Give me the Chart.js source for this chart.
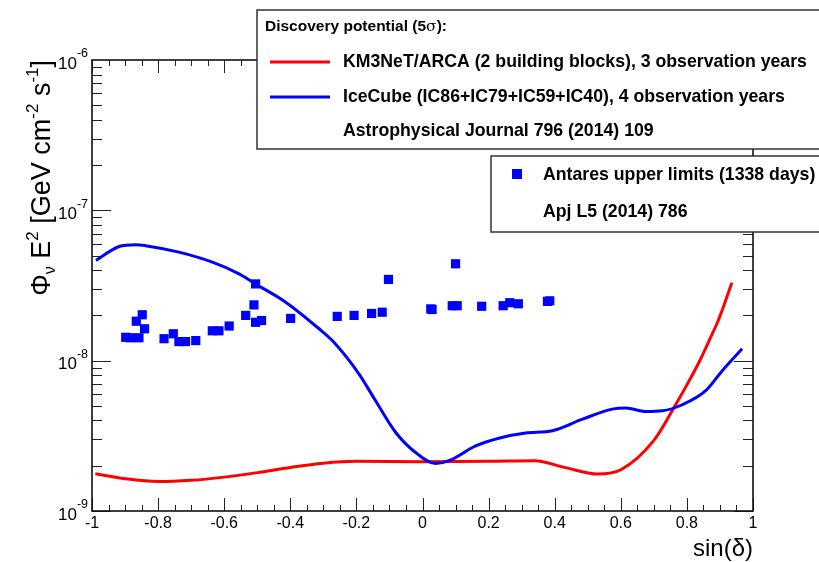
<!DOCTYPE html>
<html>
<head>
<meta charset="utf-8">
<script src="https://cdn.jsdelivr.net/npm/chart.js@4/dist/chart.umd.min.js"></script>
<style>
html, body { margin: 0; padding: 0; background: #fff; }
canvas { display: block; }
</style>
</head>
<body>
<canvas id="fluxChart" width="819" height="562"></canvas>
<script>
// KM3NeT/ARCA discovery potential (red)
const arcaSin  = [-0.99, -0.9, -0.8, -0.7, -0.6, -0.5, -0.4, -0.3, -0.2, 0.0, 0.2, 0.34, 0.43, 0.53, 0.6, 0.7, 0.766, 0.8, 0.837, 0.87, 0.897, 0.936];
const arcaFlux = [1.77e-9, 1.64e-9, 1.57e-9, 1.60e-9, 1.68e-9, 1.80e-9, 1.95e-9, 2.08e-9, 2.14e-9, 2.13e-9, 2.14e-9, 2.16e-9, 1.95e-9, 1.76e-9, 1.88e-9, 2.95e-9, 5.1e-9, 6.9e-9, 9.8e-9, 1.4e-8, 1.9e-8, 3.3e-8];

// IceCube discovery potential (blue)
const icecubeSin  = [-0.988, -0.918, -0.868, -0.838, -0.737, -0.636, -0.555, -0.505, -0.414, -0.313, -0.273, -0.192, -0.142, -0.081, -0.021, 0.04, 0.08, 0.161, 0.231, 0.312, 0.393, 0.484, 0.574, 0.615, 0.675, 0.726, 0.786, 0.857, 0.907, 0.967];
const icecubeFlux = [4.64e-8, 5.75e-8, 5.91e-8, 5.82e-8, 5.27e-8, 4.52e-8, 3.78e-8, 3.24e-8, 2.45e-8, 1.63e-8, 1.36e-8, 8.15e-9, 5.41e-9, 3.33e-9, 2.45e-9, 2.07e-9, 2.16e-9, 2.71e-9, 3.05e-9, 3.30e-9, 3.42e-9, 4.08e-9, 4.76e-9, 4.84e-9, 4.59e-9, 4.64e-9, 5.09e-9, 6.31e-9, 8.58e-9, 1.20e-8];

// Antares upper limits (squares)
const antaresSin  = [-0.898, -0.883, -0.858, -0.866, -0.848, -0.841, -0.782, -0.754, -0.737, -0.717, -0.686, -0.636, -0.616, -0.585, -0.535, -0.51, -0.505, -0.505, -0.487, -0.399, -0.258, -0.207, -0.154, -0.122, -0.103, 0.025, 0.029, 0.09, 0.105, 0.1, 0.179, 0.244, 0.264, 0.29, 0.378, 0.385];
const antaresFlux = [1.43e-8, 1.42e-8, 1.42e-8, 1.83e-8, 2.02e-8, 1.63e-8, 1.40e-8, 1.51e-8, 1.34e-8, 1.34e-8, 1.36e-8, 1.58e-8, 1.58e-8, 1.70e-8, 2.0e-8, 2.35e-8, 3.24e-8, 1.80e-8, 1.85e-8, 1.91e-8, 1.97e-8, 2.00e-8, 2.06e-8, 2.10e-8, 3.47e-8, 2.21e-8, 2.19e-8, 2.32e-8, 2.32e-8, 4.41e-8, 2.30e-8, 2.32e-8, 2.43e-8, 2.39e-8, 2.48e-8, 2.50e-8];

const xTickValues = [-1, -0.8, -0.6, -0.4, -0.2, 0, 0.2, 0.4, 0.6, 0.8, 1];
const xTickLabels = ['-1', '-0.8', '-0.6', '-0.4', '-0.2', '0', '0.2', '0.4', '0.6', '0.8', '1'];
const yDecades = [-9, -8, -7, -6];

const legendTitle = 'Discovery potential (5';
const legendArca = 'KM3NeT/ARCA (2 building blocks), 3 observation years';
const legendIce = 'IceCube (IC86+IC79+IC59+IC40), 4 observation years';
const legendIceRef = 'Astrophysical Journal 796 (2014) 109';
const legendAntares = 'Antares upper limits (1338 days)';
const legendAntaresRef = 'Apj L5 (2014) 786';

const FONT = '"Liberation Sans", Arial, Helvetica, sans-serif';

function toPoints(xs, ys) {
    return xs.map((x, i) => ({ x: x, y: ys[i] }));
}

// frame, ticks, axis labels and the two legend boxes, ROOT style
const rootFrame = {
    id: 'rootFrame',
    afterDraw(chart) {
        const ctx = chart.ctx;
        const area = chart.chartArea;
        const xs = chart.scales.x;
        const ys = chart.scales.y;
        ctx.save();

        // ticks
        ctx.strokeStyle = '#222';
        ctx.lineWidth = 1;
        ctx.beginPath();
        for (let i = 0; i <= 40; i++) {
            const v = -1 + i * 0.05;
            const px = Math.round(xs.getPixelForValue(v)) + 0.5;
            const len = (i % 4 === 0) ? 13 : 6;
            ctx.moveTo(px, area.bottom); ctx.lineTo(px, area.bottom - len);
            ctx.moveTo(px, area.top); ctx.lineTo(px, area.top + len);
        }
        for (let d = -9; d <= -7; d++) {
            for (let k = 1; k <= 9; k++) {
                const py = Math.round(ys.getPixelForValue(k * Math.pow(10, d))) + 0.5;
                const len = (k === 1) ? 19 : 10;
                ctx.moveTo(area.left, py); ctx.lineTo(area.left + len, py);
                ctx.moveTo(area.right, py); ctx.lineTo(area.right - len, py);
            }
        }
        ctx.stroke();

        // frame
        ctx.strokeStyle = '#111';
        ctx.lineWidth = 1.6;
        ctx.strokeRect(area.left, area.top, area.right - area.left, area.bottom - area.top);

        // x labels
        ctx.fillStyle = '#000';
        ctx.font = '16px ' + FONT;
        ctx.textAlign = 'center';
        ctx.textBaseline = 'middle';
        xTickValues.forEach((v, i) => {
            ctx.fillText(xTickLabels[i], xs.getPixelForValue(v), 524);
        });

        // y labels 10^n
        yDecades.forEach(d => {
            const py = ys.getPixelForValue(Math.pow(10, d));
            const exp = String(d);
            ctx.font = '12.5px ' + FONT;
            const ew = ctx.measureText(exp).width;
            ctx.textAlign = 'left';
            ctx.fillText(exp, 88 - ew, py - 6);
            ctx.font = '17px ' + FONT;
            ctx.textAlign = 'right';
            ctx.fillText('10', 88 - ew, py + 4);
        });

        // x title
        ctx.font = '24px ' + FONT;
        ctx.textAlign = 'right';
        ctx.fillText('sin(δ)', area.right, 549);

        // y title, rotated, right-aligned to the top of the frame
        const pieces = [
            ['Φ', 27, 0], ['ν', 16, 5], [' E', 27, 0], ['2', 17, -12],
            [' [GeV cm', 27, 0], ['-2', 17, -12], [' s', 27, 0], ['-1', 17, -12], [']', 27, 0]
        ];
        let total = 0;
        pieces.forEach(p => { ctx.font = p[1] + 'px ' + FONT; total += ctx.measureText(p[0]).width; });
        ctx.translate(50, area.top);
        ctx.rotate(-Math.PI / 2);
        ctx.textAlign = 'left';
        ctx.textBaseline = 'alphabetic';
        let cx = -total;
        pieces.forEach(p => {
            ctx.font = p[1] + 'px ' + FONT;
            ctx.fillText(p[0], cx, p[2]);
            cx += ctx.measureText(p[0]).width;
        });
        ctx.setTransform(1, 0, 0, 1, 0, 0);

        // legend 1
        ctx.fillStyle = '#fff';
        ctx.fillRect(257, 10, 600, 139);
        ctx.strokeStyle = '#333';
        ctx.lineWidth = 1.5;
        ctx.strokeRect(257, 10, 600, 139);
        ctx.fillStyle = '#000';
        ctx.textBaseline = 'middle';
        ctx.textAlign = 'left';
        ctx.font = 'bold 15.5px ' + FONT;
        ctx.fillText(legendTitle, 265, 27);
        let tx = 265 + ctx.measureText(legendTitle).width;
        ctx.font = '15.5px "DejaVu Serif", serif';
        ctx.fillText('σ', tx, 27);
        tx += ctx.measureText('σ').width;
        ctx.font = 'bold 15.5px ' + FONT;
        ctx.fillText('):', tx, 27);

        ctx.lineWidth = 3;
        ctx.strokeStyle = '#ff0000';
        ctx.beginPath(); ctx.moveTo(270, 62); ctx.lineTo(330, 62); ctx.stroke();
        ctx.strokeStyle = '#0000ff';
        ctx.beginPath(); ctx.moveTo(270, 97); ctx.lineTo(330, 97); ctx.stroke();
        ctx.font = 'bold 17.7px ' + FONT;
        ctx.fillText(legendArca, 343, 62);
        ctx.fillText(legendIce, 343, 97);
        ctx.fillText(legendIceRef, 343, 131);

        // legend 2
        ctx.fillStyle = '#fff';
        ctx.fillRect(491, 156, 400, 76);
        ctx.strokeStyle = '#333';
        ctx.lineWidth = 1.5;
        ctx.strokeRect(491, 156, 400, 76);
        ctx.fillStyle = '#0000ff';
        ctx.fillRect(512, 169, 10, 10);
        ctx.fillStyle = '#000';
        ctx.fillText(legendAntares, 543, 175);
        ctx.fillText(legendAntaresRef, 543, 212);

        ctx.restore();
    }
};

const ctx = document.getElementById('fluxChart').getContext('2d');
const fluxChart = new Chart(ctx, {
    type: 'line',
    data: {
        datasets: [
            {
                label: 'Antares upper limits',
                data: toPoints(antaresSin, antaresFlux),
                showLine: false,
                pointStyle: 'rect',
                pointRadius: 6.5,
                pointBorderWidth: 0,
                pointBackgroundColor: '#0000ff',
                order: 0
            },
            {
                label: 'IceCube',
                data: toPoints(icecubeSin, icecubeFlux),
                borderColor: '#0000ff',
                borderWidth: 3,
                pointRadius: 0,
                cubicInterpolationMode: 'monotone',
                fill: false,
                order: 1
            },
            {
                label: 'KM3NeT/ARCA',
                data: toPoints(arcaSin, arcaFlux),
                borderColor: '#ff0000',
                borderWidth: 3,
                pointRadius: 0,
                cubicInterpolationMode: 'monotone',
                fill: false,
                order: 2
            }
        ]
    },
    options: {
        responsive: false,
        animation: false,
        layout: { padding: { left: 92, right: 66, top: 60, bottom: 51 } },
        plugins: {
            legend: { display: false },
            tooltip: { enabled: false }
        },
        scales: {
            x: { type: 'linear', min: -1, max: 1, display: false },
            y: { type: 'logarithmic', min: 1e-9, max: 1e-6, display: false }
        }
    },
    plugins: [rootFrame]
});
</script>
</body>
</html>
